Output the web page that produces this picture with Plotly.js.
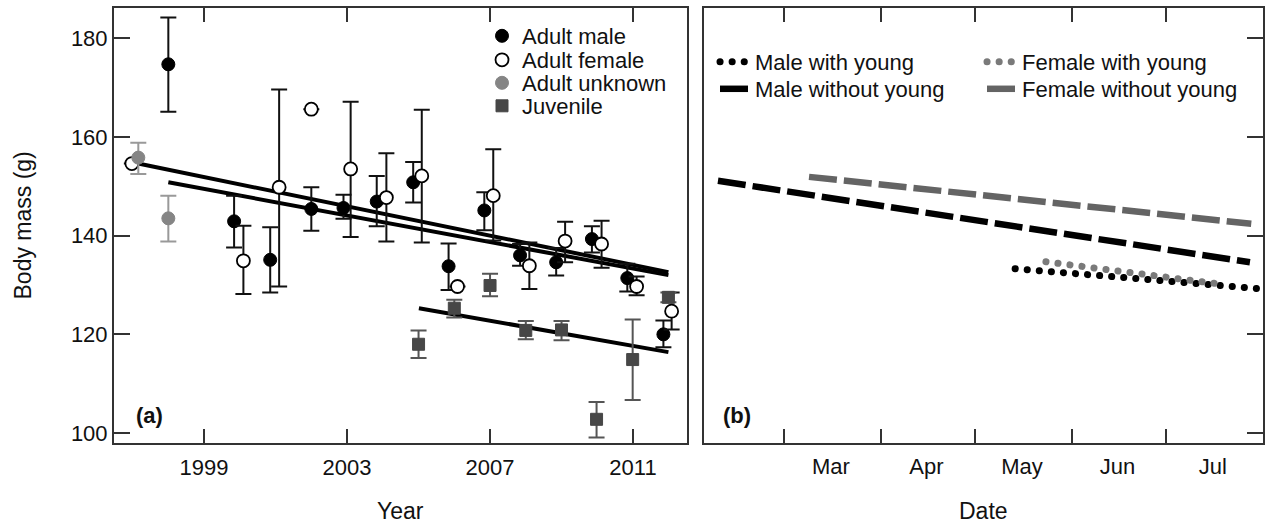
<!DOCTYPE html>
<html>
<head>
<meta charset="utf-8">
<script src="https://cdn.plot.ly/plotly-3.0.1.min.js"></script>
<style>
  html, body { margin: 0; padding: 0; background: #fff; }
  #chart { width: 1275px; height: 526px; }
  path.js-line[style*="0.1px"] { stroke-linecap: round !important; }
</style>
</head>
<body>
<div id="chart"></div>
<script>
// ---------- Panel (a) data ----------
const yearTicks = [1999, 2003, 2007, 2011];
const massTicks = [100, 120, 140, 160, 180];

const yearsMale  = [1998.0, 1999.84, 2000.85, 2002.0, 2002.9, 2003.83, 2004.85, 2005.84, 2006.84, 2007.84, 2008.85, 2009.85, 2010.84, 2011.85];
const massMale   = [174.7, 142.9, 135.1, 145.4, 145.6, 146.9, 150.8, 133.8, 145.1, 136.0, 134.6, 139.3, 131.4, 120.0];
const upperMale  = [184.2, 148.1, 141.7, 149.8, 148.3, 152.1, 154.9, 138.4, 148.8, 138.3, 137.5, 141.9, 134.3, 122.8];
const lowerMale  = [165.1, 137.6, 128.5, 141.0, 143.4, 141.9, 146.7, 129.0, 141.1, 133.9, 131.9, 136.6, 128.7, 117.4];

const yearsFemale = [1996.98, 2000.1, 2001.1, 2002.0, 2003.1, 2004.1, 2005.09, 2006.09, 2007.09, 2008.1, 2009.1, 2010.12, 2011.1, 2012.08];
const massFemale  = [154.6, 134.9, 149.8, 165.6, 153.5, 147.7, 152.1, 129.7, 148.1, 133.9, 138.9, 138.3, 129.7, 124.7];
const upperFemale = [null, 142.0, 169.6, null, 167.1, 156.7, 165.5, null, 157.5, 138.6, 142.8, 143.0, 131.7, 128.5];
const lowerFemale = [null, 128.2, 129.7, null, 139.7, 138.8, 138.6, null, 139.0, 129.2, 134.6, 133.5, 127.9, 121.0];

const yearsUnknown = [1997.16, 1998.0];
const massUnknown  = [155.8, 143.5];
const upperUnknown = [158.8, 148.1];
const lowerUnknown = [152.5, 138.8];

const yearsJuv = [2005.0, 2006.0, 2007.0, 2008.0, 2009.0, 2009.98, 2010.99, 2011.99];
const massJuv  = [118.0, 125.3, 129.9, 120.8, 120.9, 102.8, 114.9, 127.5];
const upperJuv = [120.8, 127.0, 132.3, 122.7, 122.7, 106.3, 123.0, 128.5];
const lowerJuv = [115.2, 123.4, 127.7, 119.0, 118.8, 99.1, 106.7, 126.5];

const fitFemaleYears = [1997.02, 2011.99];
const fitFemaleMass  = [154.8, 132.6];
const fitMaleYears   = [1998.0, 2011.99];
const fitMaleMass    = [150.8, 132.0];
const fitJuvYears    = [2005.01, 2011.99];
const fitJuvMass     = [125.3, 116.4];

// ---------- Panel (b) data ----------
const monthStarts = ['2013-03-01', '2013-04-01', '2013-05-01', '2013-06-01', '2013-07-01', '2013-08-01'];
const monthMids   = ['2013-03-16', '2013-04-15 12:00', '2013-05-16', '2013-06-15 12:00', '2013-07-16'];
const monthLabels = ['Mar', 'Apr', 'May', 'Jun', 'Jul'];
const dateRange   = ['2013-02-03 11:00', '2013-08-01'];

const maleWithDates      = ['2013-05-13 20:00', '2013-07-30'];
const maleWithMass       = [133.3, 129.3];
const femaleWithDates    = ['2013-05-23 16:00', '2013-07-17'];
const femaleWithMass     = [134.7, 130.3];
const maleWithoutDates   = ['2013-02-07 22:00', '2013-07-27 20:00'];
const maleWithoutMass    = [151.1, 134.6];
const femaleWithoutDates = ['2013-03-09', '2013-07-28 06:00'];
const femaleWithoutMass  = [151.9, 142.4];

// ---------- helpers ----------
function plus(up, y)  { return up.map((u, i) => (u === null ? null : +(u - y[i]).toFixed(2))); }
function minus(lo, y) { return lo.map((l, i) => (l === null ? null : +(y[i] - l).toFixed(2))); }
function errBar(up, lo, y, color) {
  return { type: 'data', symmetric: false, array: plus(up, y), arrayminus: minus(lo, y),
           color: color, thickness: 2, width: 8 };
}

const FONT = 'Liberation Sans, Arial, Helvetica, sans-serif';
const AX = '#333333';

const traces = [
  { x: fitFemaleYears, y: fitFemaleMass, mode: 'lines', line: { color: '#000', width: 4 }, showlegend: false, hoverinfo: 'skip', xaxis: 'x', yaxis: 'y' },
  { x: fitMaleYears, y: fitMaleMass, mode: 'lines', line: { color: '#000', width: 4 }, showlegend: false, hoverinfo: 'skip', xaxis: 'x', yaxis: 'y' },
  { x: fitJuvYears, y: fitJuvMass, mode: 'lines', line: { color: '#000', width: 4 }, showlegend: false, hoverinfo: 'skip', xaxis: 'x', yaxis: 'y' },
  { name: 'Adult male', x: yearsMale, y: massMale, mode: 'markers', xaxis: 'x', yaxis: 'y', legend: 'legend',
    marker: { symbol: 'circle', size: 13, color: '#000', line: { color: '#000', width: 1 } },
    error_y: errBar(upperMale, lowerMale, massMale, '#111') },
  { name: 'Adult female', x: yearsFemale, y: massFemale, mode: 'markers', xaxis: 'x', yaxis: 'y', legend: 'legend2',
    marker: { symbol: 'circle', size: 13, color: '#fff', line: { color: '#000', width: 1.8 } },
    error_y: errBar(upperFemale, lowerFemale, massFemale, '#111') },
  { name: 'Adult unknown', x: yearsUnknown, y: massUnknown, mode: 'markers', xaxis: 'x', yaxis: 'y', legend: 'legend3',
    marker: { symbol: 'circle', size: 13, color: '#858585', line: { color: '#858585', width: 1 } },
    error_y: errBar(upperUnknown, lowerUnknown, massUnknown, '#999') },
  { name: 'Juvenile', x: yearsJuv, y: massJuv, mode: 'markers', xaxis: 'x', yaxis: 'y', legend: 'legend4',
    marker: { symbol: 'square', size: 12, color: '#474747', line: { color: '#474747', width: 1 } },
    error_y: errBar(upperJuv, lowerJuv, massJuv, '#555') },
  { name: 'Male with young', x: maleWithDates, y: maleWithMass, mode: 'lines', xaxis: 'x2', yaxis: 'y2', legend: 'legend5',
    line: { color: '#000', width: 7, dash: '0.1px,12px' } },
  { name: 'Male without young', x: maleWithoutDates, y: maleWithoutMass, mode: 'lines', xaxis: 'x2', yaxis: 'y2', legend: 'legend6',
    line: { color: '#000', width: 6.5, dash: '28px,7px' } },
  { name: 'Female with young', x: femaleWithDates, y: femaleWithMass, mode: 'lines', xaxis: 'x2', yaxis: 'y2', legend: 'legend7',
    line: { color: '#7a7a7a', width: 7, dash: '0.1px,12px' } },
  { name: 'Female without young', x: femaleWithoutDates, y: femaleWithoutMass, mode: 'lines', xaxis: 'x2', yaxis: 'y2', legend: 'legend8',
    line: { color: '#646464', width: 6.5, dash: '28px,7px' } },
  // carrier for the month-name label axis (no visible marks)
  { x: monthMids, y: monthMids.map(() => null), mode: 'markers', xaxis: 'x3', yaxis: 'y2', showlegend: false, hoverinfo: 'skip' }
];

const axisCommon = {
  showline: true, linecolor: AX, linewidth: 2, showgrid: false, zeroline: false,
  ticks: 'inside', tickcolor: AX, tickwidth: 2, automargin: false,
  tickfont: { family: FONT, size: 22, color: '#111' }
};

function leg(xpx, topPx) {
  return {
    font: { family: FONT, size: 22, color: '#111' }, bgcolor: 'rgba(0,0,0,0)', borderwidth: 0,
    xref: 'container', yref: 'container', xanchor: 'left', yanchor: 'top',
    x: xpx / 1275, y: 1 - topPx / 526, itemwidth: 30
  };
}

const titleFont = { family: FONT, size: 23, color: '#111' };

const layout = {
  width: 1275, height: 526,
  margin: { l: 114, r: 12, t: 8, b: 83, pad: 0, autoexpand: false },
  paper_bgcolor: '#fff', plot_bgcolor: '#fff',
  font: { family: FONT, size: 22, color: '#111' },
  showlegend: true,
  xaxis: Object.assign({}, axisCommon, {
    domain: [0, 573 / 1149], range: [1996.48, 2012.51], anchor: 'y',
    tickmode: 'array', tickvals: yearTicks, ticktext: yearTicks.map(String), ticklen: 14, mirror: 'ticks',
    ticklabelstandoff: 4
  }),
  yaxis: Object.assign({}, axisCommon, {
    domain: [0, 1], range: [98, 186.1], anchor: 'x',
    tickmode: 'array', tickvals: massTicks, ticktext: massTicks.map(String), ticklen: 16, mirror: true
  }),
  xaxis2: Object.assign({}, axisCommon, {
    domain: [590 / 1149, 1], type: 'date', range: dateRange, anchor: 'y2',
    tickmode: 'array', tickvals: monthStarts, ticktext: monthStarts.map(() => ''), ticklen: 14, mirror: 'ticks'
  }),
  xaxis3: {
    overlaying: 'x2', anchor: 'y2', type: 'date', range: dateRange, side: 'bottom',
    showline: false, showgrid: false, zeroline: false, ticks: '', automargin: false,
    tickmode: 'array', tickvals: monthMids, ticktext: monthLabels, ticklabelstandoff: 8,
    tickfont: { family: FONT, size: 22, color: '#111' }
  },
  yaxis2: Object.assign({}, axisCommon, {
    domain: [0, 1], range: [98, 186.1], anchor: 'x2', side: 'right',
    tickmode: 'array', tickvals: massTicks, showticklabels: false, ticklen: 16, mirror: true
  }),
  legend:  leg(482, 15),
  legend2: leg(482, 39),
  legend3: leg(482, 62),
  legend4: leg(482, 85),
  legend5: leg(715, 41),
  legend6: leg(715, 68),
  legend7: leg(982, 41),
  legend8: leg(982, 68),
  annotations: [
    { text: 'Year', xref: 'x domain', yref: 'y domain', x: 0.5, y: (443 - 511) / 435, xanchor: 'center', yanchor: 'middle',
      showarrow: false, font: titleFont },
    { text: 'Date', xref: 'x2 domain', yref: 'y2 domain', x: 0.5, y: (443 - 511) / 435, xanchor: 'center', yanchor: 'middle',
      showarrow: false, font: titleFont },
    { text: 'Body mass (g)', xref: 'x domain', yref: 'y domain', x: (22 - 114) / 573, y: 0.5, xanchor: 'center', yanchor: 'middle',
      textangle: -90, showarrow: false, font: titleFont },
    { text: '<b>(a)</b>', xref: 'x domain', yref: 'y domain', x: 0.035, y: 0.064, xanchor: 'left', yanchor: 'middle',
      showarrow: false, font: { family: FONT, size: 22, color: '#111' } },
    { text: '<b>(b)</b>', xref: 'x2 domain', yref: 'y2 domain', x: 0.031, y: 0.064, xanchor: 'left', yanchor: 'middle',
      showarrow: false, font: { family: FONT, size: 22, color: '#111' } }
  ]
};

Plotly.newPlot('chart', traces, layout, { displayModeBar: false, staticPlot: true });
</script>
</body>
</html>
